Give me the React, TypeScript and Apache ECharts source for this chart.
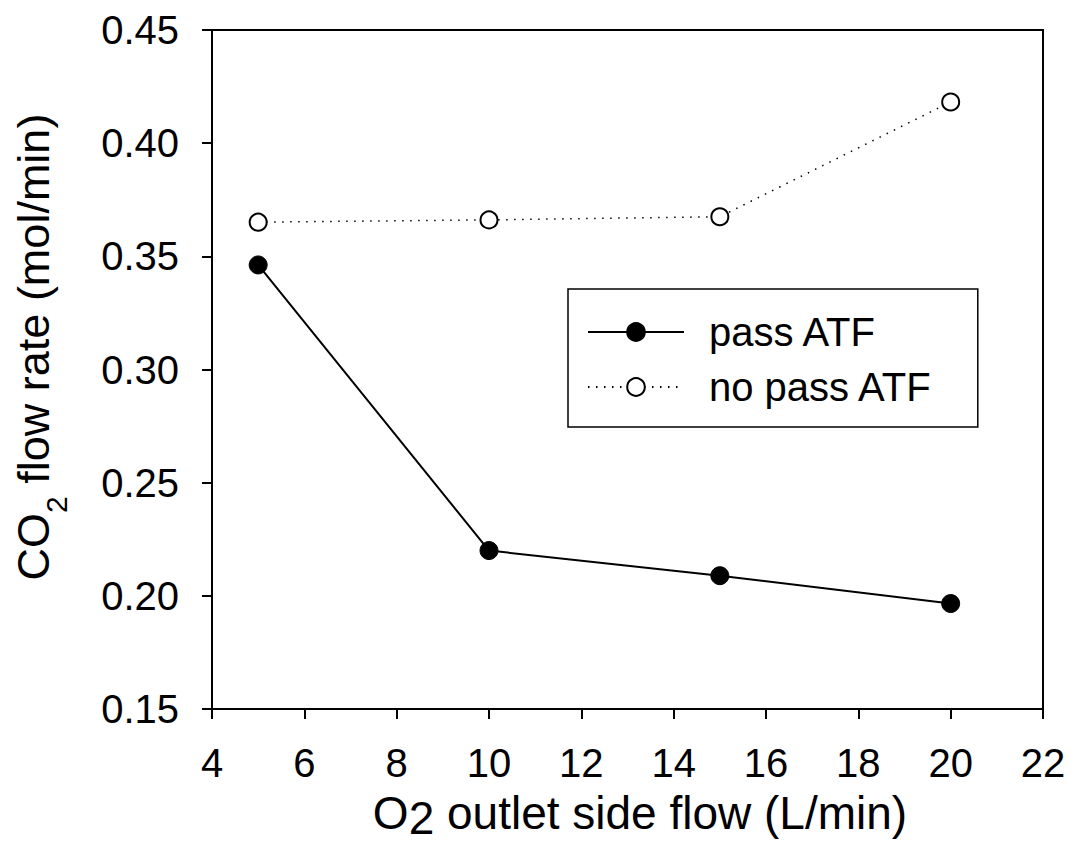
import React, { useEffect, useRef } from "react";
import * as echarts from "echarts";

const xValues = [5, 10, 15, 20];
const passATF = [0.3462, 0.22, 0.2089, 0.1966];
const noPassATF = [0.3651, 0.3661, 0.3675, 0.4182];
const seriesNames = ["pass ATF", "no pass ATF"];
const xAxisRange = { min: 4, max: 22, interval: 2 };
const yAxisRange = { min: 0.15, max: 0.45, interval: 0.05 };

const FONT = "'Liberation Sans', Arial, Helvetica, sans-serif";

export default function App() {
  const ref = useRef<HTMLDivElement>(null);
  useEffect(() => {
    if (!ref.current) return;
    const chart = echarts.init(ref.current, undefined, { renderer: "svg" });
    const toPairs = (ys: number[]) => xValues.map((x, i) => [x, ys[i]]);
    chart.setOption({
      animation: false,
      backgroundColor: "#fff",
      grid: {
        left: 212,
        right: 28,
        top: 30,
        bottom: 138,
        show: true,
        borderColor: "#000",
        borderWidth: 2,
        backgroundColor: "transparent",
      },
      xAxis: {
        type: "value",
        min: xAxisRange.min,
        max: xAxisRange.max,
        interval: xAxisRange.interval,
        axisLine: { show: true, onZero: false, lineStyle: { color: "#000", width: 2 } },
        axisTick: { show: true, inside: false, length: 10, lineStyle: { color: "#000", width: 2 } },
        splitLine: { show: false },
        axisLabel: { color: "#000", fontSize: 40, fontFamily: FONT, margin: 34 },
      },
      yAxis: {
        type: "value",
        min: yAxisRange.min,
        max: yAxisRange.max,
        interval: yAxisRange.interval,
        axisLine: { show: true, onZero: false, lineStyle: { color: "#000", width: 2 } },
        axisTick: { show: true, inside: false, length: 10, lineStyle: { color: "#000", width: 2 } },
        splitLine: { show: false },
        axisLabel: {
          color: "#000",
          fontSize: 40,
          fontFamily: FONT,
          margin: 33,
          formatter: (v: number) => v.toFixed(2),
        },
      },
      legend: {
        orient: "vertical",
        left: 568,
        top: 289,
        padding: [23, 45, 20, 19],
        itemWidth: 96,
        itemHeight: 22,
        itemGap: 15,
        borderColor: "#000",
        borderWidth: 1.5,
        backgroundColor: "#fff",
        data: seriesNames,
        textStyle: { color: "#000", fontSize: 40, fontFamily: FONT, padding: [0, 0, 0, 20] },
      },
      graphic: [
        {
          type: "text",
          x: 37,
          y: 347,
          rotation: Math.PI / 2,
          style: {
            text: "{m|CO}{s|2}{m| flow rate (mol/min)}",
            align: "center",
            verticalAlign: "middle",
            fill: "#000",
            rich: {
              m: { fontSize: 45, fontFamily: FONT, lineHeight: 52, verticalAlign: "top", fill: "#000" },
              s: {
                fontSize: 30,
                fontFamily: FONT,
                lineHeight: 30,
                verticalAlign: "top",
                padding: [30, 0, 0, 0],
                fill: "#000",
              },
            },
          },
        },
        {
          type: "text",
          x: 640,
          y: 790,
          style: {
            text: "{m|O}{s|2}{m| outlet side flow (L/min)}",
            align: "center",
            verticalAlign: "top",
            fill: "#000",
            rich: {
              m: { fontSize: 46, fontFamily: FONT, lineHeight: 46, verticalAlign: "top", fill: "#000" },
              s: {
                fontSize: 46,
                fontFamily: FONT,
                lineHeight: 38,
                verticalAlign: "top",
                padding: [5, 0, 0, 0],
                fill: "#000",
              },
            },
          },
        },
      ],
      series: [
        {
          name: seriesNames[0],
          type: "line",
          data: toPairs(passATF),
          symbol: "circle",
          symbolSize: 18,
          lineStyle: { color: "#000", width: 2 },
          itemStyle: { color: "#000", borderColor: "#000", borderWidth: 1 },
          z: 3,
        },
        {
          name: seriesNames[1],
          type: "line",
          data: toPairs(noPassATF),
          symbol: "circle",
          symbolSize: 17,
          lineStyle: { color: "#000", width: 1.5, type: [1.5, 6.5] },
          itemStyle: { color: "#fff", borderColor: "#000", borderWidth: 2 },
          z: 3,
        },
      ],
    });
    return () => chart.dispose();
  }, []);
  return (
    <div
      ref={ref}
      style={{ position: "fixed", left: 0, top: 0, width: 1071, height: 847, background: "#fff" }}
    />
  );
}
